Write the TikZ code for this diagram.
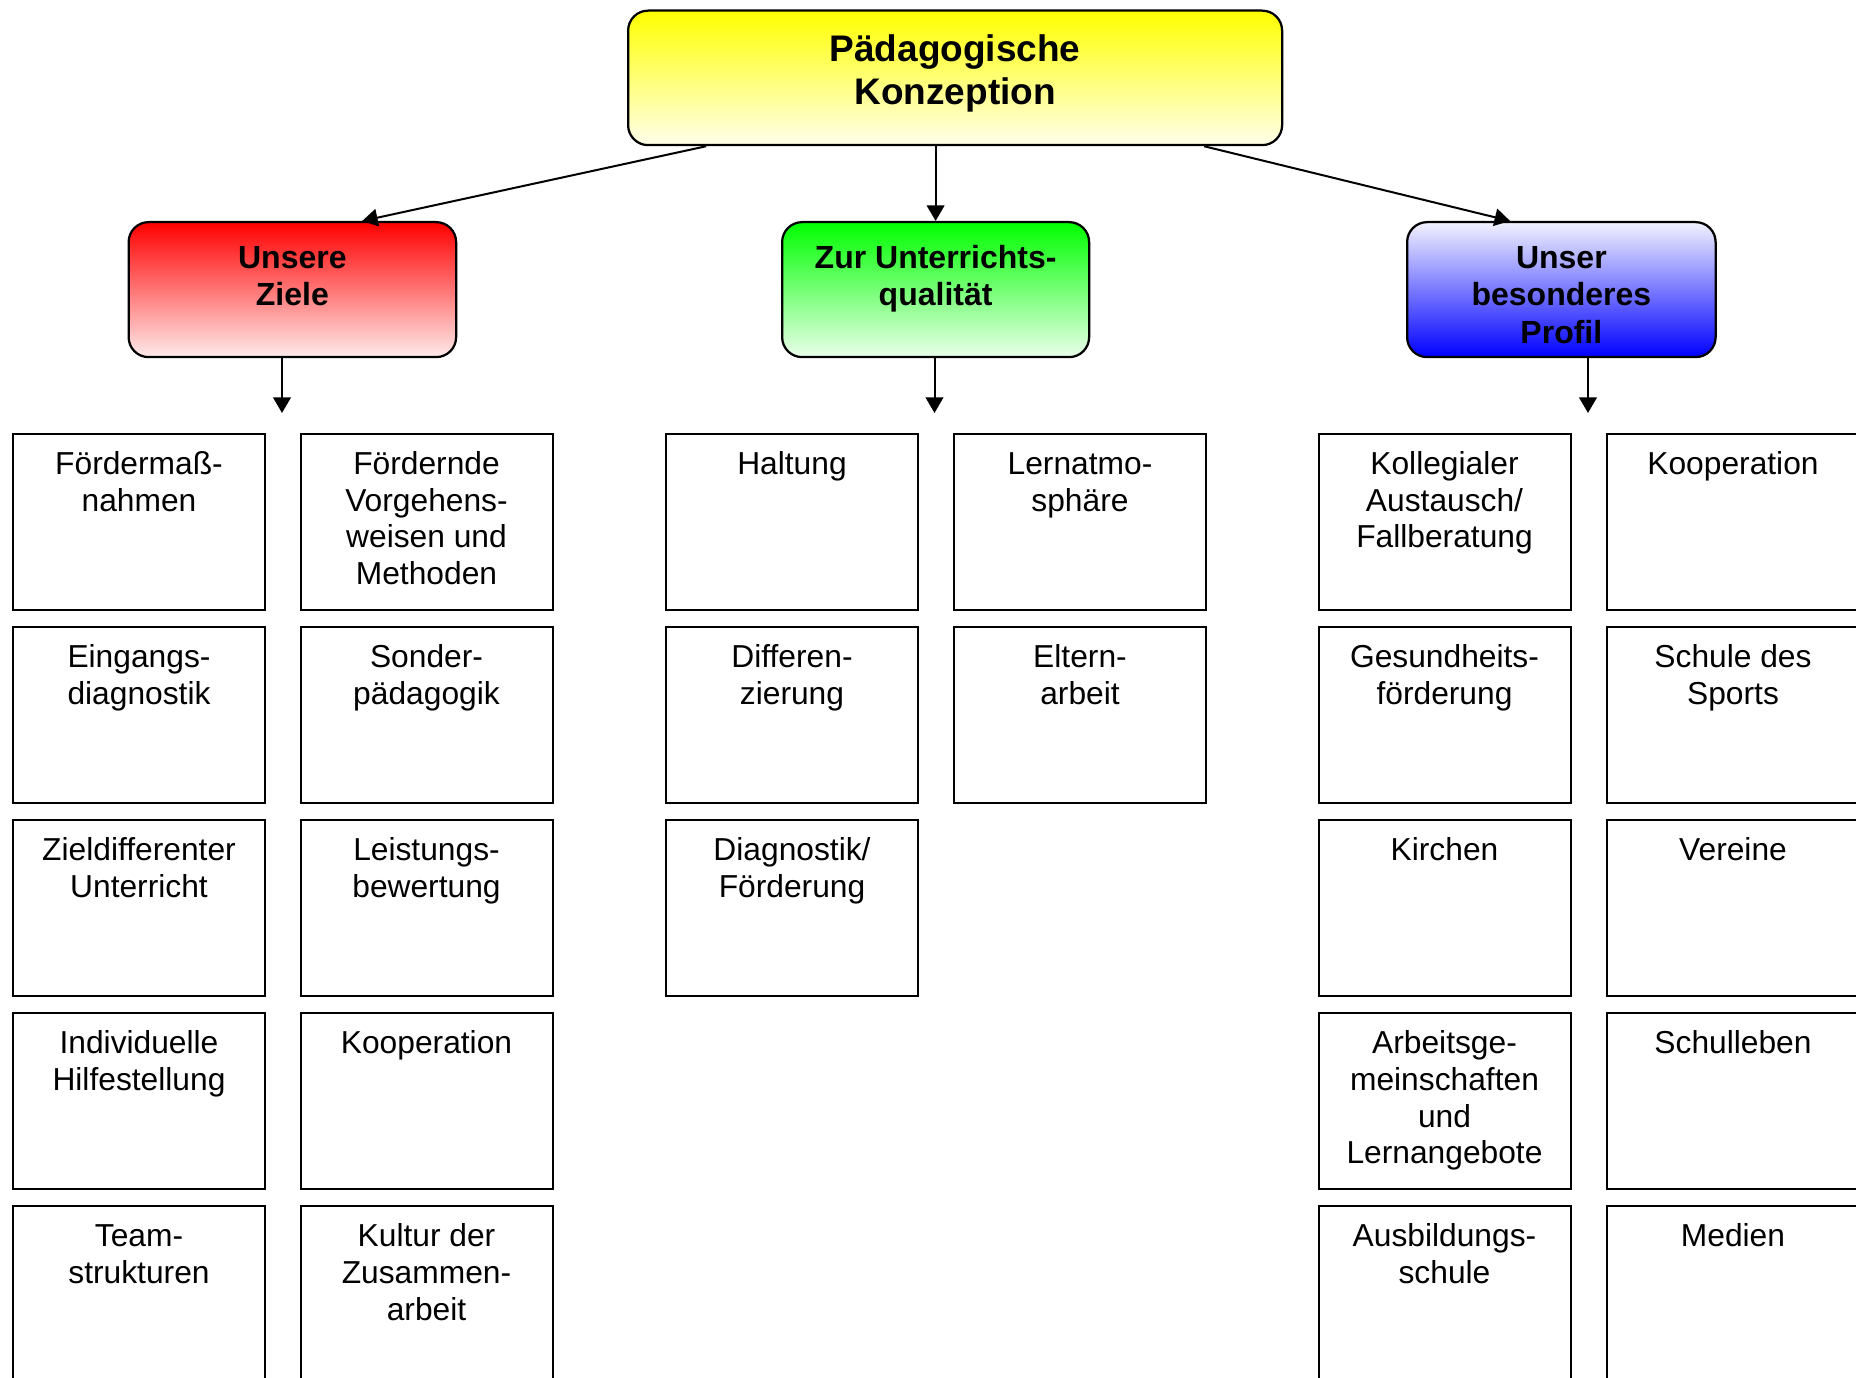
\documentclass[tikz,border=0pt]{standalone}
\usepackage{fontspec}
\setmainfont{Liberation Sans}
\usetikzlibrary{arrows.meta}
\newcommand\celltxt[1]{\parbox[t][70.4pt][t]{100.8pt}{\centering\rule{0pt}{16.2pt}#1\par}}
\newcommand\headtxt[4]{\parbox[t][#1][t]{#2}{\centering\rule{0pt}{#3}#4\par}}
\begin{document}
\begin{tikzpicture}[x=0.4pt,y=-0.4pt,
  cell/.style={draw, line width=0.8pt, inner sep=0pt, anchor=north west, font=\fontsize{12.7pt}{14.7pt}\selectfont},
  head/.style={draw, line width=0.9pt, rounded corners=8pt, inner sep=0pt, anchor=north west, font=\bfseries\fontsize{12.8pt}{14.9pt}\selectfont},
  arr/.style={line width=0.8pt, -{Triangle[length=6.2pt,width=7pt]}}]
\useasboundingbox (0,0) rectangle (1856,1378);
\clip (0,0) rectangle (1856,1378);

% headers
\node[head, top color=yellow, bottom color=yellow!8, font=\bfseries\fontsize{14.8pt}{17pt}\selectfont] (top) at (627,9.5)
  {\headtxt{53.8pt}{261.6pt}{20.4pt}{Pädagogische\\Konzeption}};
\node[head, top color=red, bottom color=red!8] (ziele) at (127.5,221)
  {\headtxt{54pt}{131pt}{18.6pt}{Unsere\\Ziele}};
\node[head, top color=green, bottom color=green!8] (zur) at (781,221)
  {\headtxt{54pt}{122.8pt}{18.6pt}{Zur Unterrichts-\\qualität}};
\node[head, top color=blue!5, bottom color=blue] (profil) at (1406,221)
  {\headtxt{54pt}{123.4pt}{18.6pt}{Unser\\besonderes\\Profil}};

% connectors
\draw[arr] ([xshift=-99.6pt]top.south) -- ([xshift=27.9pt]ziele.north);
\draw[arr] (zur.north |- top.south) -- (zur.north);
\draw[arr] ([xshift=99.6pt]top.south) -- ([xshift=-20.5pt]profil.north);
\coordinate (zd) at (282,413);
\coordinate (ud) at (934.5,413);
\coordinate (pd) at (1588,413);
\draw[arr] (ziele.south -| zd) -- (zd);
\draw[arr] (zur.south -| ud) -- (ud);
\draw[arr] (profil.south -| pd) -- (pd);

% column 1
\node[cell] (c11) at (12,433)  {\celltxt{Fördermaß-\\nahmen}};
\node[cell] (c12) at (12,626)  {\celltxt{Eingangs-\\diagnostik}};
\node[cell] (c13) at (12,819)  {\celltxt{Zieldifferenter\\Unterricht}};
\node[cell] (c14) at (12,1012) {\celltxt{Individuelle\\Hilfestellung}};
\node[cell] (c15) at (12,1205) {\celltxt{Team-\\strukturen}};
% column 2
\node[cell] (c21) at (299.5,433)  {\celltxt{Fördernde\\Vorgehens-\\weisen und\\Methoden}};
\node[cell] (c22) at (299.5,626)  {\celltxt{Sonder-\\pädagogik}};
\node[cell] (c23) at (299.5,819)  {\celltxt{Leistungs-\\bewertung}};
\node[cell] (c24) at (299.5,1012) {\celltxt{Kooperation}};
\node[cell] (c25) at (299.5,1205) {\celltxt{Kultur der\\Zusammen-\\arbeit}};
% column 3
\node[cell] (c31) at (665,433) {\celltxt{Haltung}};
\node[cell] (c32) at (665,626) {\celltxt{Differen-\\zierung}};
\node[cell] (c33) at (665,819) {\celltxt{Diagnostik/\\Förderung}};
% column 4
\node[cell] (c41) at (953,433) {\celltxt{Lernatmo-\\sphäre}};
\node[cell] (c42) at (953,626) {\celltxt{Eltern-\\arbeit}};
% column 5
\node[cell] (c51) at (1317.5,433)  {\celltxt{Kollegialer\\Austausch/\\Fallberatung}};
\node[cell] (c52) at (1317.5,626)  {\celltxt{Gesundheits-\\förderung}};
\node[cell] (c53) at (1317.5,819)  {\celltxt{Kirchen}};
\node[cell] (c54) at (1317.5,1012) {\celltxt{Arbeitsge-\\meinschaften\\und\\Lernangebote}};
\node[cell] (c55) at (1317.5,1205) {\celltxt{Ausbildungs-\\schule}};
% column 6
\node[cell] (c61) at (1606,433)  {\celltxt{Kooperation}};
\node[cell] (c62) at (1606,626)  {\celltxt{Schule des\\Sports}};
\node[cell] (c63) at (1606,819)  {\celltxt{Vereine}};
\node[cell] (c64) at (1606,1012) {\celltxt{Schulleben}};
\node[cell] (c65) at (1606,1205) {\celltxt{Medien}};
\end{tikzpicture}
\end{document}
